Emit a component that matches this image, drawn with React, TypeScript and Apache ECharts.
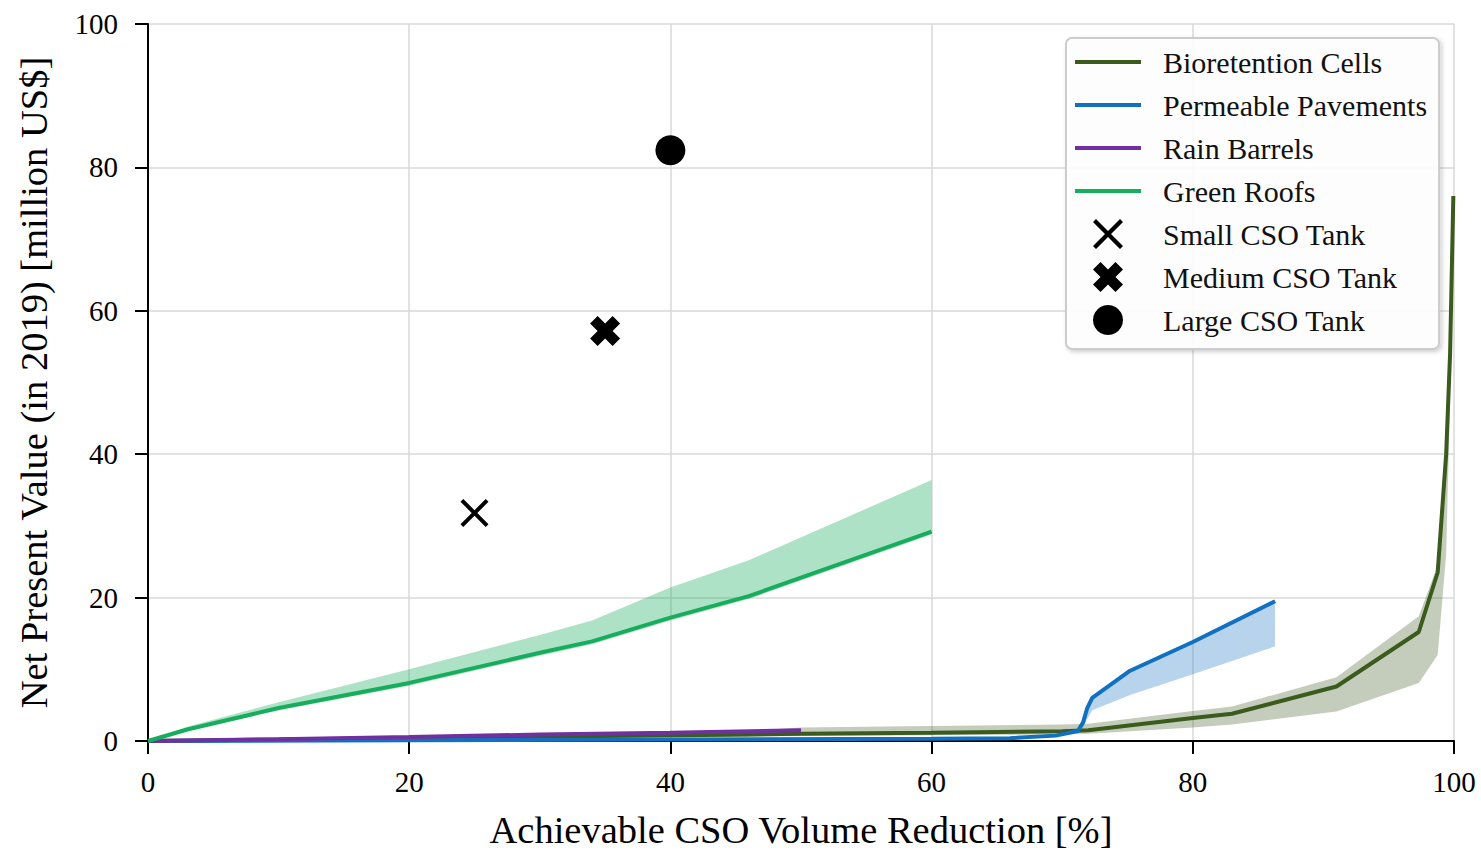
import React, { useEffect, useRef } from "react";
import * as echarts from "echarts";

// ---------- data ----------
const bioX = [0, 10, 25, 46, 50, 60, 70, 72, 80, 83, 91, 97.3, 98.75, 99.4, 99.7, 99.95];
const bioMid = [0, 0.2, 0.5, 0.9, 1.0, 1.15, 1.35, 1.5, 3.2, 3.8, 7.6, 15.2, 23.5, 40, 54, 76];
const bioLo = [0, 0.1, 0.3, 0.6, 0.7, 0.8, 0.9, 1.0, 1.9, 2.3, 4.1, 8.1, 12.0, 26, 48, 76];
const bioHi = [0, 0.3, 0.7, 1.4, 1.9, 2.1, 2.3, 2.4, 4.2, 4.8, 8.9, 17.4, 24.5, 42, 56, 76];

const permX = [0, 20, 40, 60, 66, 69.5, 71.2, 71.6, 71.9, 72.3, 75.2, 80, 86.3];
const permMid = [0, 0.1, 0.2, 0.3, 0.4, 0.75, 1.4, 2.6, 4.5, 6.0, 9.8, 13.8, 19.5];
const permLo = [0, 0.1, 0.2, 0.3, 0.4, 0.75, 1.4, 2.0, 3.0, 4.3, 6.4, 9.3, 13.2];
const permHi = [0, 0.1, 0.2, 0.3, 0.4, 0.75, 1.4, 2.6, 4.5, 6.0, 9.8, 13.8, 19.5];

const rainX = [0, 10, 20, 30, 40, 50];
const rainMid = [0, 0.25, 0.55, 0.9, 1.15, 1.5];
const rainLo = [0, 0.15, 0.4, 0.75, 1.0, 1.35];
const rainHi = [0, 0.35, 0.7, 1.05, 1.3, 1.65];

const greenX = [0, 3, 10, 20, 30, 34, 40, 46, 60];
const greenMid = [0, 1.6, 4.6, 8.1, 12.3, 13.9, 17.2, 20.2, 29.2];
const greenLo = [0, 1.4, 4.3, 7.7, 11.9, 13.5, 16.8, 19.8, 28.8];
const greenHi = [0, 2.0, 5.4, 10.0, 14.8, 16.8, 21.4, 25.2, 36.4];

const smallTank = [[25, 31.8]];
const mediumTank = [[35, 57.2]];
const largeTank = [[40, 82.4]];

const xTicks = { min: 0, max: 100, interval: 20 };
const yTicks = { min: 0, max: 100, interval: 20 };

const names = [
  "Bioretention Cells",
  "Permeable Pavements",
  "Rain Barrels",
  "Green Roofs",
  "Small CSO Tank",
  "Medium CSO Tank",
  "Large CSO Tank",
];

// ---------- styles ----------
const FONT = "'Liberation Serif', 'Times New Roman', serif";
const COL_BIO = "#3b5a1e";
const COL_PERM = "#1170c0";
const COL_RAIN = "#7030a0";
const COL_GREEN = "#17ad5c";
const LINE_ICON = "path://M0 0 L66 0 L66 4 L0 4 Z";

// thin X and thick X symbols (0..100 box)
function xPath(e: number) {
  return (
    "path://M0 " + e + " L" + e + " 0 L50 " + (50 - e) + " L" + (100 - e) + " 0 L100 " + e +
    " L" + (50 + e) + " 50 L100 " + (100 - e) + " L" + (100 - e) + " 100 L50 " + (50 + e) +
    " L" + e + " 100 L0 " + (100 - e) + " L" + (50 - e) + " 50 Z"
  );
}

function bandSeries(xs: number[], lo: number[], hi: number[], fill: string) {
  const data = xs.map((x, i) => [x, lo[i], hi[i]]);
  return {
    type: "custom",
    silent: true,
    data,
    encode: { x: 0, y: [1, 2] },
    renderItem: (params: any, api: any) => {
      if (params.dataIndex !== 0) return null;
      const upper = data.map((d) => api.coord([d[0], d[2]]));
      const lower = data.map((d) => api.coord([d[0], d[1]])).reverse();
      return {
        type: "polygon",
        shape: { points: upper.concat(lower) },
        style: { fill, stroke: "none" },
      };
    },
  };
}

function lineSeries(name: string, xs: number[], ys: number[], color: string) {
  return {
    name,
    type: "line",
    data: xs.map((x, i) => [x, ys[i]]),
    symbol: "none",
    showSymbol: false,
    color,
    itemStyle: { color },
    lineStyle: { color, width: 4 },
  };
}

export default function App() {
  const ref = useRef<HTMLDivElement>(null);

  useEffect(() => {
    if (!ref.current) return;
    const chart = echarts.init(ref.current, null, { renderer: "svg" });
    const axisCommon = {
      type: "value",
      axisLine: { show: true, lineStyle: { color: "#000", width: 2 } },
      axisTick: { show: true, inside: false, length: 13, lineStyle: { color: "#000", width: 2 } },
      splitLine: { show: true, lineStyle: { color: "#d9d9d9", width: 1.5 } },
      nameTextStyle: { fontFamily: FONT, fontSize: 38.5, color: "#000" },
    };
    chart.setOption({
      animation: false,
      backgroundColor: "#fff",
      grid: {
        left: 148,
        top: 24,
        width: 1306,
        height: 717,
        containLabel: false,
        outerBoundsMode: "none",
      },
      xAxis: {
        ...axisCommon,
        ...xTicks,
        name: "Achievable CSO Volume Reduction [%]",
        nameLocation: "middle",
        nameGap: 69,
        axisLabel: { fontFamily: FONT, fontSize: 29, color: "#000", margin: 26 },
      },
      yAxis: {
        ...axisCommon,
        ...yTicks,
        name: "Net Present Value (in 2019) [million US$]",
        nameLocation: "middle",
        nameGap: 95,
        axisLabel: { fontFamily: FONT, fontSize: 29, color: "#000", margin: 30 },
      },
      legend: {
        orient: "vertical",
        left: 1066,
        top: 38,
        padding: [9, 12, 14, 9],
        itemWidth: 66,
        itemHeight: 30,
        itemGap: 13,
        selectedMode: false,
        backgroundColor: "rgba(255,255,255,0.9)",
        borderColor: "#cccccc",
        borderWidth: 2,
        borderRadius: 6,
        shadowBlur: 4,
        shadowColor: "rgba(0,0,0,0.2)",
        shadowOffsetX: 2,
        shadowOffsetY: 2,
        textStyle: { fontFamily: FONT, fontSize: 30, color: "#111", lineHeight: 30, padding: [0, 0, 0, 17] },
        data: [
          { name: names[0], icon: LINE_ICON },
          { name: names[1], icon: LINE_ICON },
          { name: names[2], icon: LINE_ICON },
          { name: names[3], icon: LINE_ICON },
          { name: names[4] },
          { name: names[5] },
          { name: names[6] },
        ],
      },
      series: [
        bandSeries(bioX, bioLo, bioHi, "rgba(59,90,30,0.3)"),
        lineSeries(names[0], bioX, bioMid, COL_BIO),
        bandSeries(permX, permLo, permHi, "rgba(17,112,192,0.3)"),
        lineSeries(names[1], permX, permMid, COL_PERM),
        bandSeries(rainX, rainLo, rainHi, "rgba(112,48,160,0.3)"),
        lineSeries(names[2], rainX, rainMid, COL_RAIN),
        bandSeries(greenX, greenLo, greenHi, "rgba(23,173,92,0.35)"),
        lineSeries(names[3], greenX, greenMid, COL_GREEN),
        {
          name: names[4],
          type: "scatter",
          data: smallTank,
          symbol: xPath(10),
          symbolSize: 28,
          itemStyle: { color: "#000", opacity: 1 },
          z: 5,
        },
        {
          name: names[5],
          type: "scatter",
          data: mediumTank,
          symbol: xPath(25),
          symbolSize: 30,
          itemStyle: { color: "#000", opacity: 1 },
          z: 5,
        },
        {
          name: names[6],
          type: "scatter",
          data: largeTank,
          symbol: "circle",
          symbolSize: 30,
          itemStyle: { color: "#000", opacity: 1 },
          z: 5,
        },
      ],
    });
    return () => chart.dispose();
  }, []);

  return (
    <div
      ref={ref}
      style={{ position: "absolute", left: 0, top: 0, width: 1481, height: 851 }}
    />
  );
}
